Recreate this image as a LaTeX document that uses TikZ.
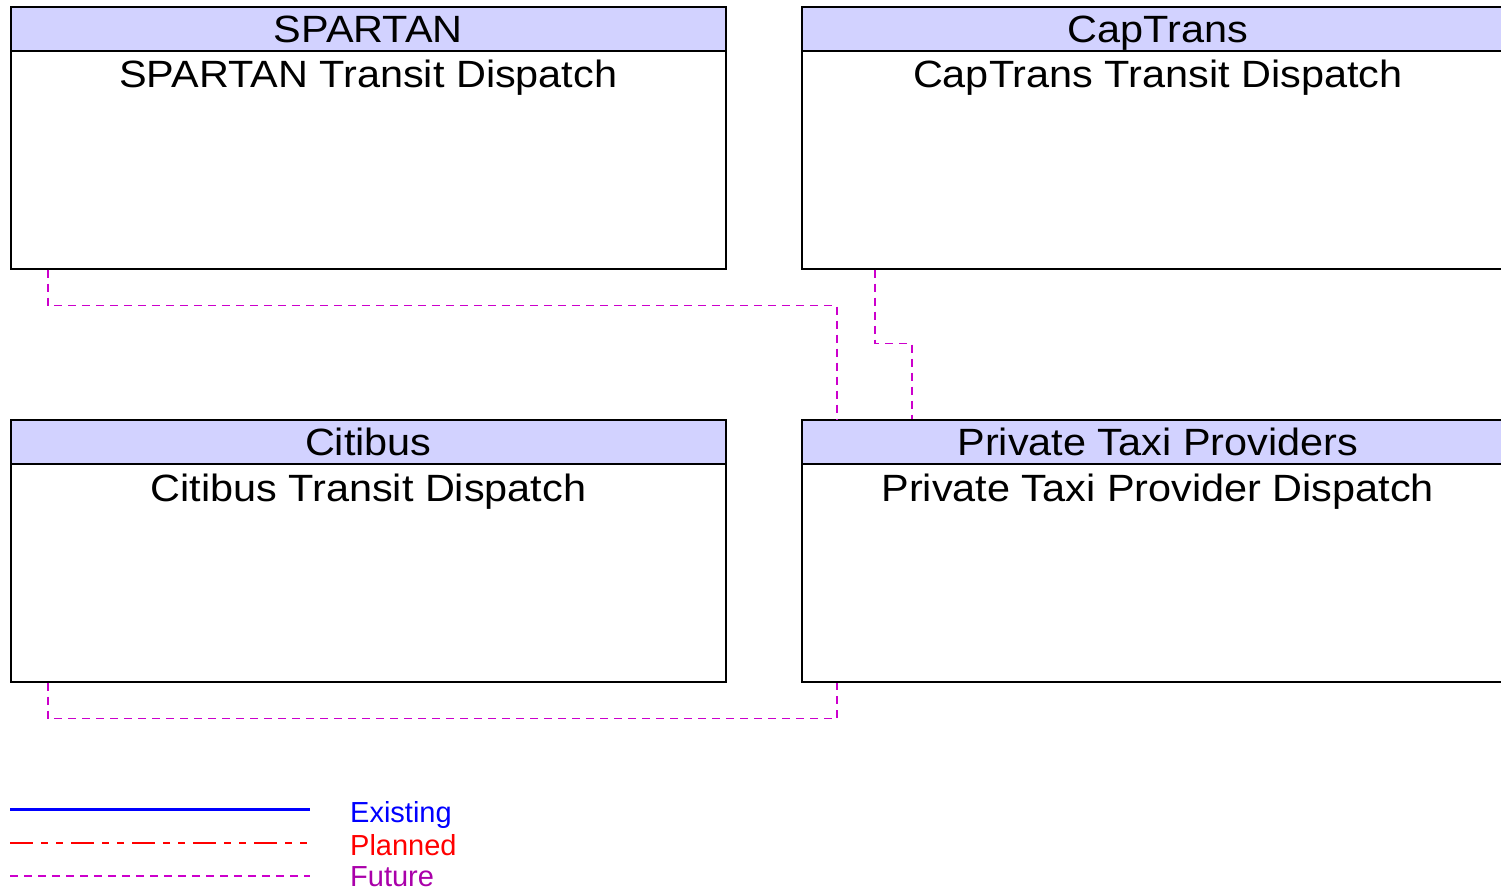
\documentclass[tikz,border=0pt]{standalone}
\usepackage{fontspec}
\setmainfont{Liberation Sans}
\newfontfamily\boxfont[FakeStretch=1.09]{Liberation Sans}
\usetikzlibrary{positioning}
\definecolor{headfill}{RGB}{210,210,255}
\definecolor{futureline}{RGB}{204,0,204}
\definecolor{futuretext}{RGB}{170,0,170}

\begin{document}
\begin{tikzpicture}[x=1pt, y=-1pt,
    sysbox/.style={draw=black, line width=1.6pt, fill=white, anchor=north west,
      minimum height=262pt, inner sep=0pt},
    headbox/.style={draw=black, line width=1.6pt, fill=headfill, anchor=north west,
      minimum height=44pt, inner sep=0pt, font=\boxfont\fontsize{38}{44}\selectfont,
      text height=27pt, text depth=0pt},
    nametext/.style={anchor=base, inner sep=0pt, font=\boxfont\fontsize{38}{44}\selectfont},
    legtext/.style={anchor=base west, inner sep=0pt, font=\fontsize{29}{34}\selectfont},
    futureflow/.style={futureline, line width=1.5pt, dash pattern=on 8pt off 6pt},
    plannedflow/.style={red, line width=1.5pt, dash pattern=on 23pt off 8pt on 7pt off 8pt on 7pt off 8pt},
    existingflow/.style={blue, line width=3pt}]
  \useasboundingbox (0,0) rectangle (1501,890);

  % systems
  \node[sysbox, minimum width=715pt] (spartan) at (10,6) {};
  \node[headbox, minimum width=715pt] (spartanhead) at (spartan.north west) {SPARTAN};
  \node[nametext] (spartanname) at ([yshift=-82pt]spartan.north) {SPARTAN Transit Dispatch};

  \node[sysbox, minimum width=712pt] (captrans) at (801,6) {};
  \node[headbox, minimum width=712pt] (captranshead) at (captrans.north west) {CapTrans};
  \node[nametext] (captransname) at ([yshift=-82pt]captrans.north) {CapTrans Transit Dispatch};

  \node[sysbox, minimum width=715pt] (citibus) at (10,419) {};
  \node[headbox, minimum width=715pt] (citibushead) at (citibus.north west) {Citibus};
  \node[nametext] (citibusname) at ([yshift=-82pt]citibus.north) {Citibus Transit Dispatch};

  \node[sysbox, minimum width=712pt] (taxi) at (801,419) {};
  \node[headbox, minimum width=712pt] (taxihead) at (taxi.north west) {Private Taxi Providers};
  \node[nametext] (taxiname) at ([yshift=-82pt]taxi.north) {Private Taxi Provider Dispatch};

  % flows
  \draw[futureflow] ([xshift=38pt]spartan.south west) -- ++(0,36) -| ([xshift=36pt]taxi.north west);
  \draw[futureflow] ([xshift=74pt]captrans.south west) -- ++(0,74) -| ([xshift=111pt]taxi.north west);
  \draw[futureflow] ([xshift=38pt]citibus.south west) -- ++(0,36) -| ([xshift=36pt]taxi.south west);

  % legend
  \coordinate (exA) at (10,809);
  \coordinate (exB) at (310,809);
  \coordinate (plA) at (10,843);
  \coordinate (plB) at (310,843);
  \coordinate (fuA) at (10,876);
  \coordinate (fuB) at (310,876);
  \draw[existingflow] (exA) -- (exB);
  \draw[plannedflow] (plA) -- (plB);
  \draw[futureflow] (fuA) -- (fuB);
  \node[legtext, text=blue] (existing) at (350,822) {Existing};
  \node[legtext, text=red] (planned) at (350,855) {Planned};
  \node[legtext, text=futuretext] (future) at (350,886) {Future};
\end{tikzpicture}
\end{document}
